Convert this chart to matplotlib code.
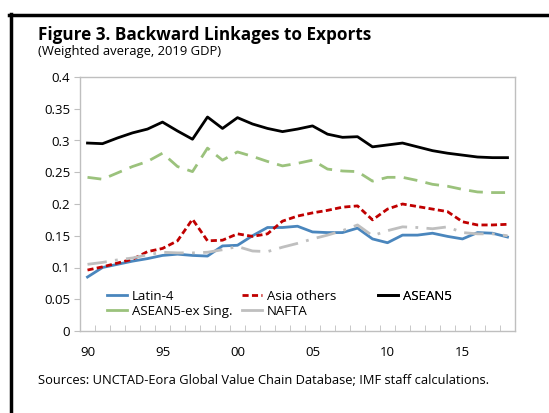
import numpy as np
import matplotlib.pyplot as plt
from matplotlib.lines import Line2D

plt.rcParams['font.family'] = ['Open Sans', 'DejaVu Sans']

# Données
years = np.arange(1990, 2019)
latin4 = [0.085, 0.100, 0.105, 0.110, 0.114, 0.119, 0.121, 0.119, 0.118, 0.134,
          0.135, 0.150, 0.163, 0.163, 0.165, 0.156, 0.155, 0.155, 0.162, 0.145,
          0.139, 0.151, 0.151, 0.154, 0.149, 0.145, 0.155, 0.154, 0.148]
asia_others = [0.096, 0.101, 0.107, 0.113, 0.125, 0.130, 0.142, 0.176, 0.142, 0.143,
               0.153, 0.149, 0.153, 0.173, 0.181, 0.186, 0.190, 0.195, 0.197, 0.175,
               0.192, 0.200, 0.196, 0.192, 0.188, 0.172, 0.167, 0.167, 0.168]
asean5 = [0.296, 0.295, 0.304, 0.312, 0.318, 0.329, 0.315, 0.302, 0.337, 0.319,
          0.336, 0.326, 0.319, 0.314, 0.318, 0.323, 0.310, 0.305, 0.306, 0.290,
          0.293, 0.296, 0.290, 0.284, 0.280, 0.277, 0.274, 0.273, 0.273]
asean5_ex = [0.242, 0.239, 0.249, 0.259, 0.267, 0.280, 0.259, 0.251, 0.288, 0.269,
             0.282, 0.275, 0.267, 0.260, 0.264, 0.269, 0.255, 0.252, 0.251, 0.236,
             0.242, 0.242, 0.237, 0.231, 0.228, 0.223, 0.219, 0.218, 0.218]
nafta = [0.105, 0.108, 0.112, 0.115, 0.120, 0.124, 0.123, 0.123, 0.124, 0.128,
         0.133, 0.126, 0.125, 0.132, 0.138, 0.145, 0.151, 0.158, 0.167, 0.150,
         0.158, 0.164, 0.163, 0.161, 0.164, 0.155, 0.153, 0.153, 0.150]
xtick_years = [1990, 1995, 2000, 2005, 2010, 2015]
xtick_labels = ['90', '95', '00', '05', '10', '15']

c_blue = '#4a86bd'
c_red = '#c00000'
c_green = '#9bc27c'
c_gray = '#bfbfbf'

W, H = 549, 413
fig = plt.figure(figsize=(W/100, H/100), dpi=100)
ax = fig.add_axes([80/W, 1-331/H, 435/W, 254/H])

ax.plot(years, latin4, color=c_blue, lw=2, solid_joinstyle='round')
ax.plot(years, asia_others, color=c_red, lw=2, dashes=(2.2, 1.2))
ax.plot(years, asean5, color='black', lw=2, solid_joinstyle='round')
ax.plot(years, asean5_ex, color=c_green, lw=2, dashes=(5, 3))
ax.plot(years, nafta, color=c_gray, lw=2, dashes=(7, 3, 1, 3))

ax.set_xlim(1989.5, 2018.5)
ax.set_ylim(0, 0.4)
ax.set_yticks(np.arange(0, 0.41, 0.05))
ax.set_yticklabels(['0', '0.05', '0.1', '0.15', '0.2', '0.25', '0.3', '0.35', '0.4'])
ax.set_xticks(xtick_years)
ax.set_xticklabels(xtick_labels)
ax.set_xticks(np.arange(1989.5, 2018.6, 1), minor=True)
ax.tick_params(axis='x', which='major', length=0, pad=11, labelsize=9.5)
ax.tick_params(axis='x', which='minor', direction='in', length=4, color=c_gray)
ax.tick_params(axis='y', direction='out', length=4, color=c_gray, pad=3, labelsize=9.5)
for s in ax.spines.values():
    s.set_color(c_gray)
    s.set_linewidth(1)

# Légende en trois colonnes à largeur égale
def col_legend(handles, labels, x):
    leg = ax.legend(handles, labels, loc='upper left', bbox_to_anchor=(x, 0.162),
                    frameon=False, fontsize=9.5, handlelength=1.5, handletextpad=0.4,
                    labelspacing=0.15, borderaxespad=0, borderpad=0)
    ax.add_artist(leg)

col_legend([Line2D([], [], color=c_blue, lw=2), Line2D([], [], color=c_green, lw=2)],
           ['Latin-4', 'ASEAN5-ex Sing.'], 0.062)
col_legend([Line2D([], [], color=c_red, lw=2, dashes=(2.2, 1.2)), Line2D([], [], color=c_gray, lw=2)],
           ['Asia others', 'NAFTA'], 0.372)
col_legend([Line2D([], [], color='black', lw=2)], ['ASEAN5'], 0.685)

# Textes
fig.text(38/W, 1-40/H, 'Figure 3. Backward Linkages to Exports', fontsize=12.3,
         fontweight='bold', va='baseline')
fig.text(38/W, 1-55/H, '(Weighted average, 2019 GDP)', fontsize=9.4, va='baseline')
fig.text(38/W, 1-384/H, 'Sources: UNCTAD-Eora Global Value Chain Database; IMF staff calculations.',
         fontsize=9.25, va='baseline')

# Cadre noir
fig.add_artist(Line2D([10.5/W, 10.5/W], [0, 1-14/H], color='black', lw=2.5))
fig.add_artist(Line2D([9/W, 1], [1-14.5/H, 1-14.5/H], color='black', lw=2.5))

fig.savefig('out.png', dpi=100)
